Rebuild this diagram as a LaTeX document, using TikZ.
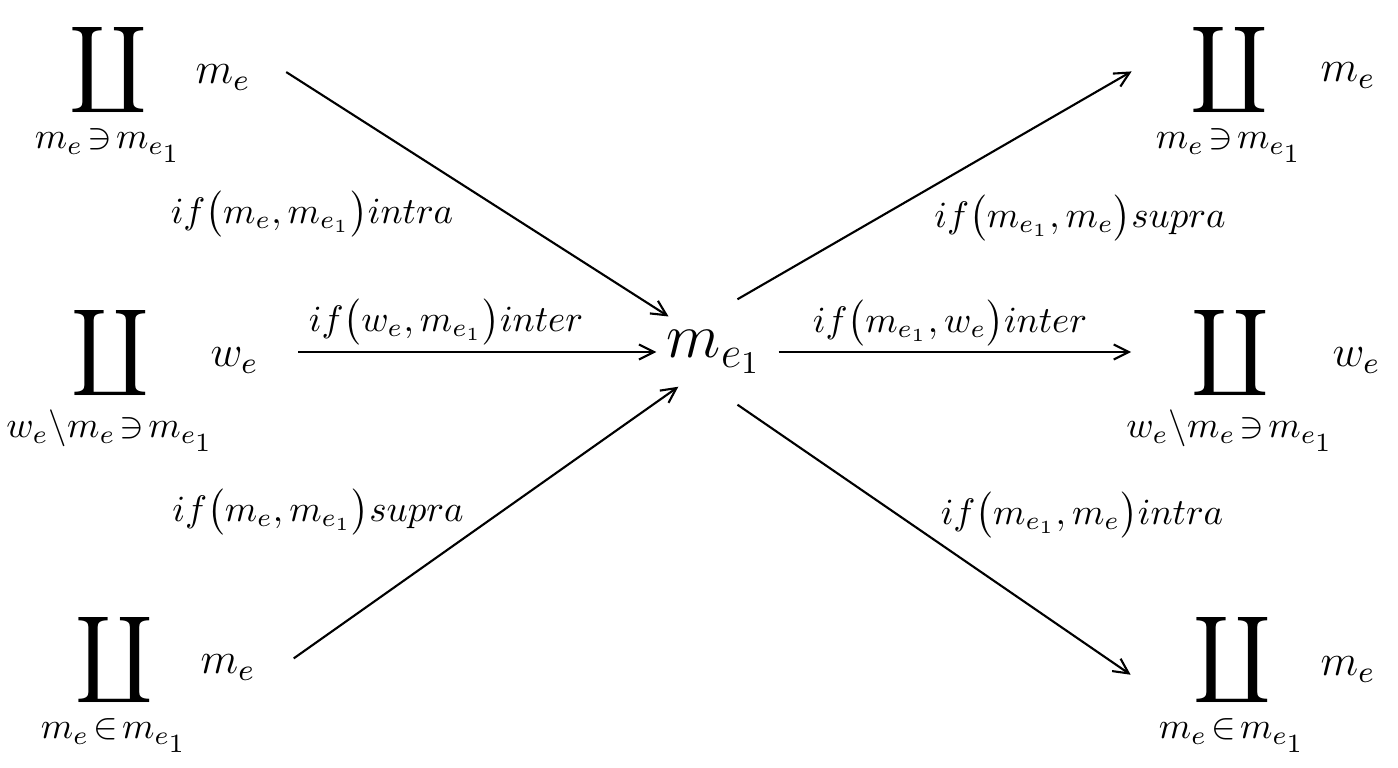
\documentclass[tikz,border=0pt]{standalone}
\usepackage{fix-cm}
\usepackage{amsmath}
\usetikzlibrary{arrows.meta}
\newcommand{\bigcop}{\mathop{\raisebox{0pt}[\height][\dimexpr\depth-2.4mm\relax]{\fontsize{16}{19}\selectfont$\displaystyle\coprod$}}\limits}
\newcommand{\sep}{\mkern2mu}
\tikzset{
  op/.style={anchor=base, inner sep=1pt, font=\fontsize{15}{18}\selectfont},
  el/.style={anchor=base west, inner sep=1mm, font=\fontsize{12.5}{15}\selectfont},
  lbl/.style={inner sep=0pt, font=\fontsize{10.5}{13}\selectfont},
  hub/.style={circle, inner sep=0pt, minimum size=11.4mm, font=\fontsize{18}{21}\selectfont},
  arr/.style={-{Straight Barb[length=1.5mm,width=1.5mm]}, line width=0.6pt},
}
\begin{document}
\begin{tikzpicture}[x=0.1mm, y=-0.1mm]
\useasboundingbox (0,0) rectangle (1398,768);
% centre
\node[hub] (c) at (714,352) {$m_{e_1}$};
% left column
\node[op] (lt) at (108,84) {$\bigcop_{m_e\sep\ni\sep m_{e_1}}$};
\node[el] (lta) at (185,84) {$m_e$};
\node[op] (lm) at (110,367) {$\bigcop_{w_e\backslash m_e\sep\ni\sep m_{e_1}}$};
\node[el] (lma) at (200,367) {$w_e$};
\node[op] (lb) at (114,674) {$\bigcop_{m_e\sep\in\sep m_{e_1}}$};
\node[el] (lba) at (190,674) {$m_e$};
% right column
\node[op] (rt) at (1229,84) {$\bigcop_{m_e\sep\ni\sep m_{e_1}}$};
\node[el] (rta) at (1310,82) {$m_e$};
\node[op] (rm) at (1230,367) {$\bigcop_{w_e\backslash m_e\sep\ni\sep m_{e_1}}$};
\node[el] (rma) at (1322,367) {$w_e$};
\node[op] (rb) at (1232,674) {$\bigcop_{m_e\sep\in\sep m_{e_1}}$};
\node[el] (rba) at (1310,676) {$m_e$};
% labels
\node[lbl] (l1) at (312,214) {$if\bigl(m_e,m_{e_1}\bigr)intra$};
\node[lbl] (l2) at (446,322) {$if\bigl(w_e,m_{e_1}\bigr)inter$};
\node[lbl] (l3) at (318,512) {$if\bigl(m_e,m_{e_1}\bigr)supra$};
\node[lbl] (r1) at (1080,218) {$if\bigl(m_{e_1},m_e\bigr)supra$};
\node[lbl] (r2) at (950,323) {$if\bigl(m_{e_1},w_e\bigr)inter$};
\node[lbl] (r3) at (1082,515) {$if\bigl(m_{e_1},m_e\bigr)intra$};
% arrows
\draw[arr, shorten <=3mm] (lta.30) -- (c.142);
\draw[arr, shorten <=2.9mm] (lma.east |- c.west) -- (c.west);
\draw[arr, shorten <=3.4mm, shorten >=-0.8mm] (lba.-15) -- (c.223);
\draw[arr, shorten >=2.3mm] (c.66) -- (rt.156);
\draw[arr, shorten <=0.7mm, shorten >=-0.9mm] (c.east) -- (rm.west |- c.east);
\draw[arr, shorten >=2.9mm] (c.-66) -- (rb.185);
\end{tikzpicture}
\end{document}
